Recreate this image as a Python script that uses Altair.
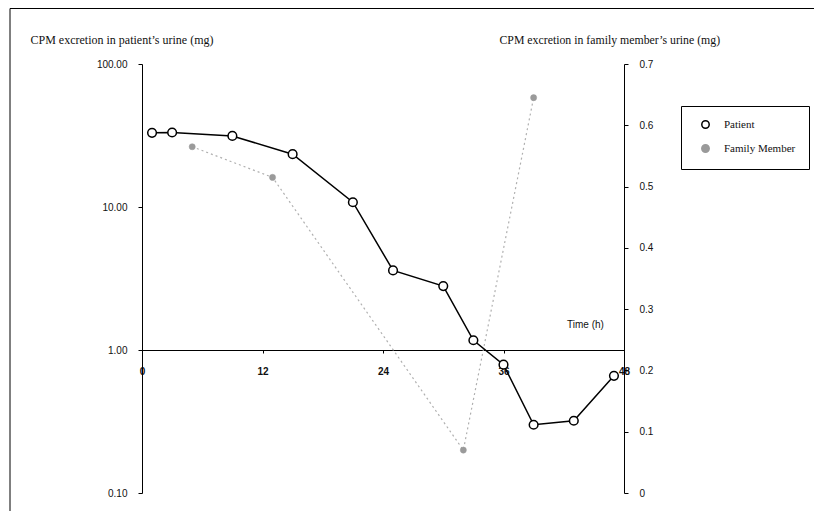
import altair as alt
import pandas as pd

# ---- data ----
patient_hours = [1, 3, 9, 15, 21, 25, 30, 33, 36, 39, 43, 47]
patient_mg = [33.0, 33.2, 31.4, 23.4, 10.8, 3.6, 2.8, 1.17, 0.79, 0.30, 0.32, 0.66]

family_hours = [5, 13, 32, 39]
family_mg = [0.565, 0.515, 0.07, 0.645]

x_ticks = [0, 12, 24, 36, 48]
left_ticks = [0.1, 1, 10, 100]
right_ticks = [0, 0.1, 0.2, 0.3, 0.4, 0.5, 0.6, 0.7]
series_names = ["Patient", "Family Member"]

pat = pd.DataFrame({"hour": patient_hours, "mg": patient_mg, "series": "Patient"})
fam = pd.DataFrame({"hour": family_hours, "mg": family_mg, "series": "Family Member"})

SANS = "Liberation Sans"
SERIF = "Liberation Serif"

x_enc = alt.X(
    "hour:Q",
    scale=alt.Scale(domain=[0, 48], nice=False, zero=False),
    axis=alt.Axis(
        values=x_ticks, offset=-143, grid=False,
        domainColor="black", domainWidth=1, tickColor="black", tickSize=3,
        labelFont=SANS, labelFontSize=10, labelFontWeight="bold", labelColor="#111",
        labelPadding=13, labelFlush=False,
        title="Time (h)", titleFont=SANS, titleFontSize=10, titleFontWeight="normal",
        titleColor="#111", titleX=443, titleY=-26, titleAlign="center",
        titleBaseline="middle",
    ),
)

legend_labels = "datum.label + '\u2003\u2003'"

fill_enc = alt.Fill(
    "series:N",
    scale=alt.Scale(domain=series_names, range=["white", "#9a9a9a"]),
    legend=alt.Legend(title=None, labelExpr=legend_labels),
)
stroke_enc = alt.Stroke(
    "series:N",
    scale=alt.Scale(domain=series_names, range=["black", "#9a9a9a"]),
    legend=alt.Legend(title=None, labelExpr=legend_labels),
)

y_left = alt.Y(
    "mg:Q",
    scale=alt.Scale(type="log", domain=[0.1, 100], nice=False),
    axis=alt.Axis(
        orient="left", values=left_ticks, format=".2f", grid=False,
        domainColor="black", tickColor="black", tickSize=4,
        labelFont=SANS, labelFontSize=10, labelColor="#111", labelPadding=11,
        title="CPM excretion in patient\u2019s urine (mg)", titleFont=SERIF,
        titleFontSize=12, titleFontWeight="normal", titleColor="#111",
        titleAngle=0, titleAlign="left", titleBaseline="alphabetic",
        titleX=-112, titleY=-21,
    ),
)

y_right = alt.Y(
    "mg:Q",
    scale=alt.Scale(domain=[0, 0.7], nice=False),
    axis=alt.Axis(
        orient="right", values=right_ticks, format=".1~f", grid=False,
        domainColor="black", tickColor="black", tickSize=4,
        labelFont=SANS, labelFontSize=10, labelColor="#111", labelPadding=11,
        title="CPM excretion in family member\u2019s urine (mg)", titleFont=SERIF,
        titleFontSize=11.8, titleFontWeight="normal", titleColor="#111",
        titleAngle=0, titleAlign="left", titleBaseline="alphabetic",
        titleX=-125, titleY=-21,
    ),
)

patient_line = alt.Chart(pat).mark_line(color="black", strokeWidth=1.5).encode(x=x_enc, y=y_left)
patient_pts = alt.Chart(pat).mark_point(
    shape="circle", filled=True, size=75, strokeWidth=1.5, opacity=1
).encode(x=x_enc, y=y_left, fill=fill_enc, stroke=stroke_enc)
patient = alt.layer(patient_line, patient_pts)

family_line = alt.Chart(fam).mark_line(
    color="#b0b0b0", strokeWidth=1.2, strokeDash=[2, 3]
).encode(x=x_enc, y=y_right)
family_pts = alt.Chart(fam).mark_point(
    shape="circle", filled=True, size=38, strokeWidth=0.5, opacity=1
).encode(x=x_enc, y=y_right, fill=fill_enc, stroke=stroke_enc)
family = alt.layer(family_line, family_pts)

frame = alt.Chart(pd.DataFrame({"a": [0]})).mark_rect(
    fillOpacity=0, stroke="black", strokeWidth=1
).encode(
    x=alt.value(-132), x2=alt.value(677), y=alt.value(-55.5), y2=alt.value(460)
)

chart = (
    alt.layer(frame, family, patient)
    .resolve_scale(y="independent")
    .properties(
        width=482,
        height=429,
        padding={"left": 134, "top": 56, "right": 190, "bottom": 18},
        autosize=alt.AutoSizeParams(type="none"),
        background="white",
    )
    .configure_view(stroke="transparent")
    .configure_legend(
        orient="none", legendX=539, legendY=42,
        strokeColor="black", fillColor="white", padding=13,
        labelFont=SERIF, labelFontSize=11, labelColor="#111",
        symbolType="circle", symbolSize=55, symbolStrokeWidth=1.5,
        symbolOffset=6, labelOffset=13, rowPadding=9,
    )
)

chart.save("out.html", embed_options={"renderer": "svg", "actions": False})
